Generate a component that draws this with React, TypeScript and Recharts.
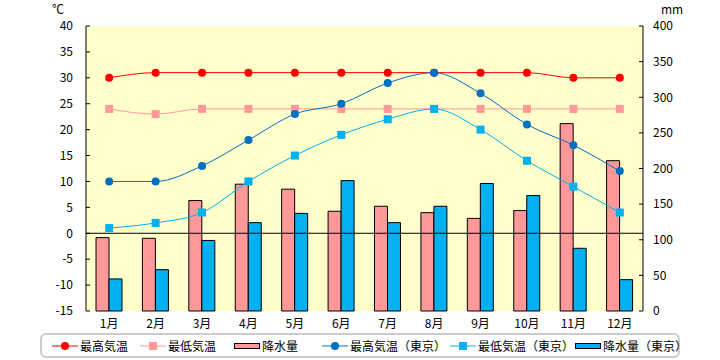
import { Bar, CartesianGrid, ComposedChart, Legend, Line, ReferenceLine, XAxis, YAxis } from 'recharts'

const months = ['1月', '2月', '3月', '4月', '5月', '6月', '7月', '8月', '9月', '10月', '11月', '12月']
const maxTemp = [30, 31, 31, 31, 31, 31, 31, 31, 31, 31, 30, 30]
const minTemp = [24, 23, 24, 24, 24, 24, 24, 24, 24, 24, 24, 24]
const rain = [103, 102, 155, 178, 171, 140, 147, 138, 130, 141, 263, 211]
const maxTempTokyo = [10, 10, 13, 18, 23, 25, 29, 31, 27, 21, 17, 12]
const minTempTokyo = [1, 2, 4, 10, 15, 19, 22, 24, 20, 14, 9, 4]
const rainTokyo = [45, 58, 99, 124, 137, 183, 124, 147, 179, 162, 88, 44]
const tempTicks = [-15, -10, -5, 0, 5, 10, 15, 20, 25, 30, 35, 40]
const rainTicks = [0, 50, 100, 150, 200, 250, 300, 350, 400]

const data = months.map((m, i) => ({
  month: m,
  maxTemp: maxTemp[i],
  minTemp: minTemp[i],
  rain: rain[i],
  maxTempTokyo: maxTempTokyo[i],
  minTempTokyo: minTempTokyo[i],
  rainTokyo: rainTokyo[i],
}))

const FONT = '"Noto Sans CJK JP", "Noto Sans", sans-serif'

const squareDot = (color: string) => (p: any) => (
  <rect key={`sq-${color}-${p.index}`} x={p.cx - 4} y={p.cy - 4} width={8} height={8} fill={color} />
)
const circleDot = (color: string) => (p: any) => (
  <circle key={`c-${color}-${p.index}`} cx={p.cx} cy={p.cy} r={4} fill={color} />
)

const legendItems = [
  { label: '最高気温', color: '#FF0000', kind: 'circle', left: 10 },
  { label: '最低気温', color: '#FF9999', kind: 'square', left: 98 },
  { label: '降水量', color: '#FF9999', kind: 'bar', left: 192 },
  { label: '最高気温（東京）', color: '#0070C0', kind: 'circle', left: 280 },
  { label: '最低気温（東京）', color: '#00B0F0', kind: 'square', left: 408 },
  { label: '降水量（東京）', color: '#00B0F0', kind: 'bar', left: 533 },
]

function LegendIcon({ kind, color }: { kind: string; color: string }) {
  return (
    <svg width={26} height={12} style={{ display: 'block' }}>
      {kind === 'bar' ? (
        <rect x={0.5} y={3.5} width={25} height={5} fill={color} stroke="#000" strokeWidth={1} />
      ) : (
        <>
          <line x1={0} y1={6} x2={26} y2={6} stroke={color} strokeWidth={1} />
          {kind === 'circle' ? (
            <circle cx={13} cy={6} r={4} fill={color} />
          ) : (
            <rect x={9} y={2} width={8} height={8} fill={color} />
          )}
        </>
      )}
    </svg>
  )
}

function CustomLegend() {
  return (
    <div
      style={{
        position: 'relative',
        boxSizing: 'border-box',
        width: 640,
        height: 25,
        border: '2px solid #CCCCCC',
        borderRadius: 6,
        fontSize: 12,
        fontFamily: FONT,
        color: '#000',
      }}
    >
      {legendItems.map((it) => (
        <div
          key={it.label}
          style={{ position: 'absolute', left: it.left, top: 3, display: 'flex', alignItems: 'center', whiteSpace: 'nowrap', lineHeight: '16px' }}
        >
          <LegendIcon kind={it.kind} color={it.color} />
          <span style={{ marginLeft: 2 }}>{it.label}</span>
        </div>
      ))}
    </div>
  )
}

export default function App() {
  return (
    <div style={{ position: 'absolute', left: 0, top: 0, width: 720, height: 360, background: '#fff', fontFamily: FONT }}>
      <style>{'body{margin:0}'}</style>
      <div style={{ position: 'absolute', left: 52, top: 0, fontSize: 12 }}>℃</div>
      <div style={{ position: 'absolute', left: 661, top: 0, fontSize: 12 }}>mm</div>
      <ComposedChart
        width={720}
        height={360}
        data={data}
        margin={{ top: 26, right: 0, bottom: 0, left: 0 }}
        barGap={0}
        barSize={13}
      >
        <CartesianGrid horizontal={false} vertical={false} fill="#FFFFCC" stroke="none" />
        <XAxis
          dataKey="month"
          height={24}
          axisLine={false}
          tickLine={false}
          tick={{ fill: '#000', fontSize: 12 }}
          interval={0}
        />
        <YAxis
          yAxisId="left"
          orientation="left"
          width={86}
          domain={[-15, 40]}
          ticks={tempTicks}
          interval={0}
          axisLine={{ stroke: '#000' }}
          tickLine={{ stroke: '#000' }}
          tickSize={-4}
          tickMargin={17}
          tick={{ fill: '#000', fontSize: 12 }}
        />
        <YAxis
          yAxisId="right"
          orientation="right"
          width={77}
          domain={[0, 400]}
          ticks={rainTicks}
          interval={0}
          axisLine={{ stroke: '#000' }}
          tickLine={{ stroke: '#000' }}
          tickSize={-4}
          tickMargin={14}
          tick={{ fill: '#000', fontSize: 12 }}
        />
        <Bar yAxisId="right" dataKey="rain" fill="#FF9999" stroke="#000" strokeWidth={1} isAnimationActive={false} />
        <Bar yAxisId="right" dataKey="rainTokyo" fill="#00B0F0" stroke="#000" strokeWidth={1} isAnimationActive={false} />
        <ReferenceLine yAxisId="left" y={0} stroke="#000" strokeWidth={1} />
        <Line yAxisId="left" type="monotone" dataKey="maxTemp" stroke="#FF0000" strokeWidth={1} dot={circleDot('#FF0000')} activeDot={false} isAnimationActive={false} />
        <Line yAxisId="left" type="monotone" dataKey="minTemp" stroke="#FF9999" strokeWidth={1} dot={squareDot('#FF9999')} activeDot={false} isAnimationActive={false} />
        <Line yAxisId="left" type="monotone" dataKey="maxTempTokyo" stroke="#0070C0" strokeWidth={1} dot={circleDot('#0070C0')} activeDot={false} isAnimationActive={false} />
        <Line yAxisId="left" type="monotone" dataKey="minTempTokyo" stroke="#00B0F0" strokeWidth={1} dot={squareDot('#00B0F0')} activeDot={false} isAnimationActive={false} />
        <Legend
          verticalAlign="bottom"
          content={() => <CustomLegend />}
          wrapperStyle={{ left: 40, top: 333, width: 640, height: 25 }}
        />
      </ComposedChart>
    </div>
  )
}
